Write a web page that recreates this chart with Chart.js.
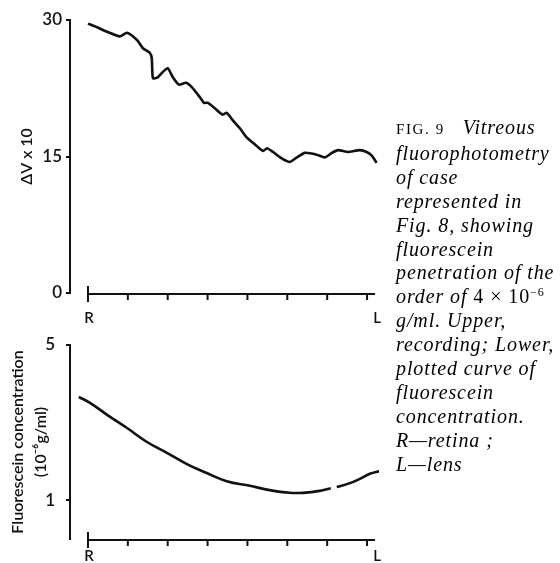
<!DOCTYPE html>
<html lang="en">
<head>
<meta charset="UTF-8">
<title>Fig. 9 Vitreous fluorophotometry</title>
<script src="https://cdn.jsdelivr.net/npm/chart.js"></script>
<style>
body { margin: 0; background: #fff; }
#wrap { position: relative; width: 560px; height: 563px; overflow: hidden; }
#upper { position: absolute; left: 0; top: 0; }
#lower { position: absolute; left: 0; top: 335px; }

/* figure caption on the right */
.caption {
    position: absolute;
    left: 396px;
    top: 116px;
    font-family: 'Liberation Serif', serif;
    font-style: italic;
    font-size: 20px;
    letter-spacing: 0.9px;
    line-height: 23.9px;
    color: #000;
    white-space: nowrap;
}
.caption .sc { font-style: normal; font-size: 15px; letter-spacing: 1.6px; margin-right: 18px; }
.caption .up { font-style: normal; }
.caption sup { font-size: 12px; line-height: 0; vertical-align: 7px; font-style: normal; }
</style>
</head>
<body>
<div id="wrap">
    <canvas id="upper" width="400" height="335"></canvas>
    <canvas id="lower" width="400" height="228"></canvas>
    <div class="caption">
        <span class="sc">FIG. 9</span>Vitreous<br>
        fluorophotometry<br>
        of case<br>
        represented in<br>
        Fig. 8, showing<br>
        fluorescein<br>
        penetration of the<br>
        order of <span class="up">4 × 10</span><sup>−6</sup><br>
        g/ml. Upper,<br>
        recording; Lower,<br>
        plotted curve of<br>
        fluorescein<br>
        concentration.<br>
        R—retina ;<br>
        L—lens
    </div>
</div>
<script>
// distance from retina (R = 0) to lens, in tick units
const xTicks = [0, 1, 2, 3, 4, 5, 6, 7];
const xEnd = 7.2;
const xLabels = ['R', 'L'];

// upper: recording, ΔV x 10
const upperDist = [0, 0.23, 0.48, 0.80, 0.98, 1.23, 1.38, 1.55, 1.60, 1.63, 1.75, 1.88, 2.00, 2.13, 2.28, 2.46, 2.61, 2.81, 2.91, 3.01, 3.18, 3.38, 3.48, 3.63, 3.81, 3.98, 4.14, 4.39, 4.49, 4.64, 4.86, 5.06, 5.24, 5.44, 5.74, 5.94, 6.12, 6.27, 6.52, 6.82, 6.99, 7.12, 7.24];
const recording = [29.6, 29.2, 28.7, 28.2, 28.6, 27.8, 26.9, 26.4, 25.8, 23.6, 23.7, 24.3, 24.7, 23.7, 22.9, 23.1, 22.6, 21.5, 20.9, 20.9, 20.3, 19.6, 19.8, 19.0, 18.1, 17.1, 16.5, 15.6, 15.9, 15.5, 14.8, 14.4, 14.9, 15.4, 15.2, 14.9, 15.4, 15.7, 15.5, 15.7, 15.5, 15.1, 14.3];
const upperTicks = [0, 15, 30];

// lower: fluorescein concentration (10^-6 g/ml), null = break in the line
const lowerDist = [-0.23, 0.05, 0.48, 0.98, 1.48, 1.98, 2.48, 2.98, 3.48, 4.06, 4.56, 5.06, 5.39, 5.81, 6.09, 6.16, 6.24, 6.57, 6.82, 7.07, 7.32];
const concentration = [3.66, 3.51, 3.20, 2.86, 2.50, 2.22, 1.93, 1.70, 1.49, 1.37, 1.26, 1.19, 1.19, 1.24, 1.31, null, 1.34, 1.44, 1.55, 1.68, 1.75];
const lowerTicks = [1, 5];

const ink = '#111';
const tickFont = { family: 'Lato', size: 17, weight: '600' };

// x axis drawn by hand: it starts at R, away from the y axis
const rlAxis = {
    id: 'rlAxis',
    afterDraw(chart, args, opts) {
        const x = chart.scales.x, y = chart.scales.y, ctx = chart.ctx;
        const y0 = y.getPixelForValue(0) + 1;
        const x0 = x.getPixelForValue(0);
        ctx.save();
        ctx.strokeStyle = ink;
        ctx.lineWidth = 2;
        ctx.beginPath();
        ctx.moveTo(x0, y0);
        ctx.lineTo(x.getPixelForValue(xEnd), y0);
        ctx.moveTo(x0, y0 - 8);
        ctx.lineTo(x0, y0 + 8);
        xTicks.slice(1).forEach(t => {
            const px = x.getPixelForValue(t);
            ctx.moveTo(px, y0);
            ctx.lineTo(px, y0 + 6);
        });
        ctx.stroke();
        ctx.fillStyle = ink;
        ctx.font = '600 15px Lato';
        ctx.textAlign = 'center';
        ctx.textBaseline = 'middle';
        ctx.fillText(xLabels[0], x0 + 1, y0 + opts.labelOffset);
        ctx.fillText(xLabels[1], x.getPixelForValue(xEnd) + 2, y0 + opts.labelOffset);
        ctx.restore();
    }
};

function makeChart(id, dist, values, yMax, yTicks, title, titlePad, tickPad, pad, tension, labelOffset) {
    return new Chart(document.getElementById(id), {
        type: 'line',
        data: {
            datasets: [{
                data: dist.map((d, i) => ({ x: d, y: values[i] })),
                borderColor: ink,
                borderWidth: 2.6,
                pointRadius: 0,
                tension: tension,
                spanGaps: false
            }]
        },
        options: {
            responsive: false,
            animation: false,
            layout: { padding: pad },
            plugins: { legend: { display: false }, tooltip: { enabled: false }, rlAxis: { labelOffset: labelOffset } },
            scales: {
                x: { type: 'linear', min: -0.451, max: 7.3, display: false },
                y: {
                    min: 0,
                    max: yMax,
                    afterBuildTicks: s => { s.ticks = yTicks.map(v => ({ value: v })); },
                    afterFit: s => { s.width = 70; s.paddingTop = 0; s.paddingBottom = 0; },
                    border: { display: true, color: ink, width: 2 },
                    grid: { drawOnChartArea: false, drawTicks: true, tickLength: 4, color: ink, lineWidth: 2 },
                    ticks: { color: ink, font: tickFont, padding: tickPad },
                    title: { display: true, text: title, color: ink, padding: { top: titlePad }, font: { family: 'Lato', size: 16, weight: '600', lineHeight: 1.4 } }
                }
            }
        },
        plugins: [rlAxis]
    });
}

makeChart('upper', upperDist, recording, 30, upperTicks, 'ΔV x 10', 16, 4,
    { top: 20, bottom: 42, left: 0, right: 21 }, 0.2, 24);
makeChart('lower', lowerDist, concentration, 5, lowerTicks, ['Fluorescein concentration', '(10⁻⁶g/ml)'], 7, 11,
    { top: 10, bottom: 24, left: 0, right: 21 }, 0.4, 16);
</script>
</body>
</html>
